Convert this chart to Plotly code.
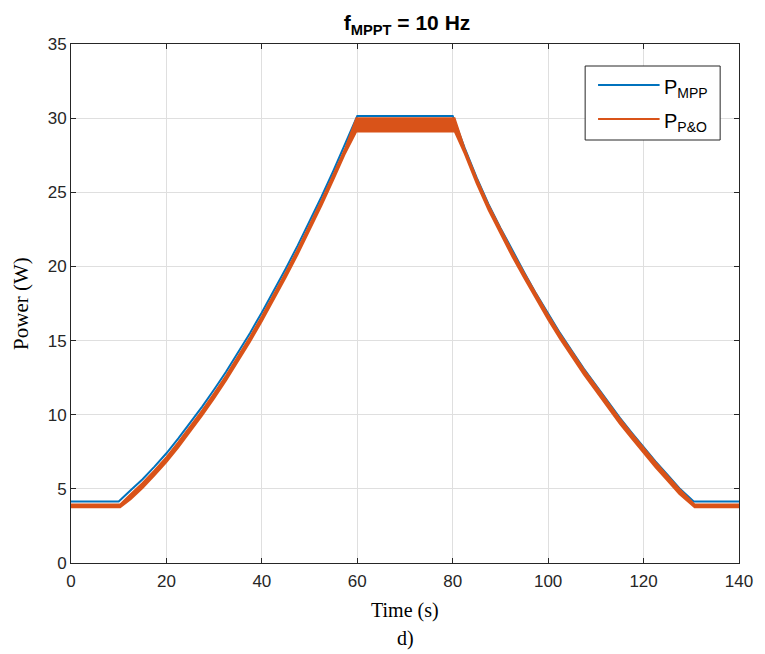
import plotly.graph_objects as go

# ---- data ----
t_mpp = [0, 10, 12.5, 15, 17.5, 20, 22.5, 25, 27.5, 30, 32.5, 35, 37.5, 40, 42.5, 45, 47.5, 50,
         52.5, 55, 57.5, 60, 80, 82.5, 85, 87.5, 90, 92.5, 95, 97.5, 100, 102.5, 105, 107.5,
         110, 112.5, 115, 117.5, 120, 122.5, 125, 127.5, 130.5, 140]
p_mpp = [4.15, 4.15, 4.9, 5.65, 6.5, 7.4, 8.4, 9.45, 10.55, 11.7, 12.9, 14.2, 15.5, 16.9, 18.35,
         19.85, 21.4, 23.0, 24.7, 26.45, 28.25, 30.15, 30.15, 28.0, 26.0, 24.2, 22.6, 21.05,
         19.6, 18.15, 16.8, 15.5, 14.3, 13.1, 12.0, 10.9, 9.8, 8.8, 7.8, 6.85, 5.95, 5.05,
         4.15, 4.15]

t_po = [0, 10.3, 12.5, 15, 17.5, 20, 22.5, 25, 27.5, 30, 32.5, 35, 37.5, 40, 42.5, 45, 47.5, 50,
        52.5, 55, 57.5, 59.8, 80.4, 82.5, 85, 87.5, 90, 92.5, 95, 97.5, 100, 102.5, 105, 107.5,
        110, 112.5, 115, 117.5, 120, 122.5, 125, 127.5, 130.7, 140]
p_po_low = [3.75, 3.75, 4.3, 5.05, 5.9, 6.8, 7.8, 8.85, 9.95, 11.1, 12.3, 13.6, 14.9, 16.3, 17.75,
            19.25, 20.8, 22.4, 24.1, 25.85, 27.65, 29.1, 29.1, 27.6, 25.6, 23.8, 22.2, 20.65,
            19.2, 17.75, 16.4, 15.1, 13.9, 12.7, 11.6, 10.5, 9.4, 8.4, 7.4, 6.45, 5.55, 4.65,
            3.75, 3.75]
p_po_high = [3.95, 3.95, 4.65, 5.4, 6.25, 7.15, 8.15, 9.2, 10.3, 11.45, 12.65, 13.95, 15.25, 16.65,
             18.1, 19.6, 21.15, 22.75, 24.45, 26.2, 28.0, 30.0, 30.0, 27.95, 25.95, 24.15, 22.55,
             21.0, 19.55, 18.1, 16.75, 15.45, 14.25, 13.05, 11.95, 10.85, 9.75, 8.75, 7.75, 6.8,
             5.9, 5.0, 3.95, 3.95]

x_ticks = [0, 20, 40, 60, 80, 100, 120, 140]
y_ticks = [0, 5, 10, 15, 20, 25, 30, 35]

BLUE = "#0072BD"
ORANGE = "#D95319"
AX = "#262626"
GRID = "#dfdfdf"

fig = go.Figure()
fig.add_trace(go.Scatter(x=t_mpp, y=p_mpp, mode="lines", name="P_MPP",
                         line=dict(color=BLUE, width=2), showlegend=False))
fig.add_trace(go.Scatter(x=t_po, y=p_po_high, mode="lines", name="P_P&O upper",
                         line=dict(color=ORANGE, width=1.8), showlegend=False))
fig.add_trace(go.Scatter(x=t_po, y=p_po_low, mode="lines", name="P_P&O",
                         line=dict(color=ORANGE, width=1.8), fill="tonexty",
                         fillcolor=ORANGE, showlegend=False))

axis_common = dict(showline=True, linecolor=AX, linewidth=1, mirror="allticks",
                   ticks="inside", ticklen=5, tickcolor=AX, showgrid=True,
                   gridcolor=GRID, gridwidth=1, zeroline=False,
                   tickfont=dict(family="Liberation Sans, Arial", size=17, color=AX))

fig.update_xaxes(range=[0, 140], tickvals=x_ticks, ticktext=[str(v) for v in x_ticks],
                 ticklabelstandoff=3, **axis_common)
fig.update_yaxes(range=[0, 35], tickvals=y_ticks, ticktext=[str(v) for v in y_ticks], **axis_common)

L, R, T, B = 71, 21, 44, 91
W, H = 765, 654
pw, ph = W - L - R, H - T - B

def px2x(px):
    return (px - L) / pw

def py2y(py):
    return (H - B - py) / ph

# manual legend (MATLAB-style)
shapes = [
    dict(type="rect", xref="paper", yref="paper", x0=px2x(589), x1=px2x(725),
         y0=py2y(140), y1=py2y(66), line=dict(color=AX, width=1), fillcolor="white", layer="above"),
    dict(type="line", xref="paper", yref="paper", x0=px2x(602), x1=px2x(664),
         y0=py2y(85), y1=py2y(85), line=dict(color=BLUE, width=2), layer="above"),
    dict(type="line", xref="paper", yref="paper", x0=px2x(602), x1=px2x(664),
         y0=py2y(119), y1=py2y(119), line=dict(color=ORANGE, width=2), layer="above"),
]

legend_font = dict(family="Liberation Sans, Arial", size=20, color="#000")
annotations = [
    dict(text="P<sub>MPP</sub>", xref="paper", yref="paper", x=px2x(666), y=py2y(88),
         xanchor="left", yanchor="middle", showarrow=False, font=legend_font),
    dict(text="P<sub>P&amp;O</sub>", xref="paper", yref="paper", x=px2x(666), y=py2y(122),
         xanchor="left", yanchor="middle", showarrow=False, font=legend_font),
    dict(text="Time (s)", xref="paper", yref="paper", x=0.5, y=py2y(610),
         xanchor="center", yanchor="middle", showarrow=False,
         font=dict(family="Liberation Serif, Times New Roman", size=20, color="#000")),
    dict(text="d)", xref="paper", yref="paper", x=0.5, y=py2y(638),
         xanchor="center", yanchor="middle", showarrow=False,
         font=dict(family="Liberation Serif, Times New Roman", size=20, color="#000")),
    dict(text="Power (W)", xref="paper", yref="paper", x=px2x(20), y=0.5,
         xanchor="center", yanchor="middle", showarrow=False, textangle=-90,
         font=dict(family="Liberation Serif, Times New Roman", size=21, color="#000")),
]

fig.update_layout(
    width=W, height=H,
    margin=dict(l=L, r=R, t=T, b=B),
    paper_bgcolor="white", plot_bgcolor="white",
    title=dict(text="<b>f<sub>MPPT</sub> = 10 Hz</b>", x=407 / W,
               xanchor="center", y=1 - 23 / H, yanchor="middle",
               font=dict(family="Liberation Sans, Arial", size=21, color="#000")),
    shapes=shapes, annotations=annotations,
    showlegend=False,
)

fig.write_html("out.html")
